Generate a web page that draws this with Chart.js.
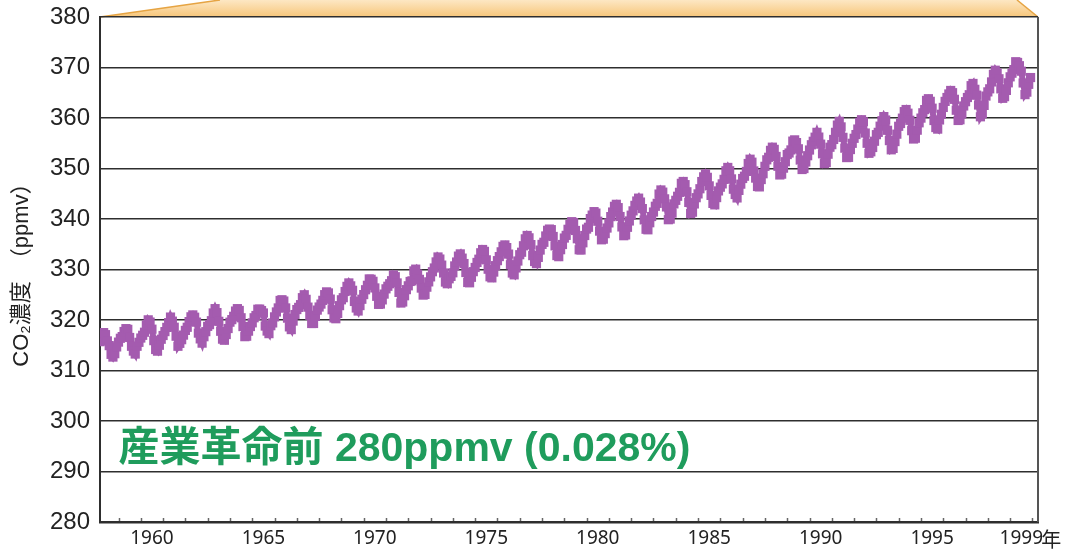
<!DOCTYPE html>
<html>
<head>
<meta charset="utf-8">
<script src="https://cdn.jsdelivr.net/npm/chart.js@4"></script>
<style>
  html,body{margin:0;padding:0;background:#fff}
  canvas{display:block}
</style>
</head>
<body>
<canvas id="co2" width="1066" height="549"></canvas>
<script>
// Mauna Loa monthly CO2 (ppmv), Jan..Dec per row
const years = [1958,1959,1960,1961,1962,1963,1964,1965,1966,1967,1968,1969,1970,1971,
  1972,1973,1974,1975,1976,1977,1978,1979,1980,1981,1982,1983,1984,1985,1986,1987,
  1988,1989,1990,1991,1992,1993,1994,1995,1996,1997,1998,1999];
const co2ByYear = [
  [null,null,315.71,317.45,317.50,317.10,315.86,314.93,313.20,312.66,313.33,314.67],
  [315.62,316.38,316.71,317.72,318.29,318.15,316.54,314.80,313.84,313.26,314.80,315.58],
  [316.43,316.97,317.58,319.02,320.03,319.59,318.18,315.91,314.16,313.83,315.00,316.19],
  [316.93,317.70,318.54,319.48,320.58,319.77,318.57,316.79,314.80,315.38,316.10,317.01],
  [317.94,318.56,319.68,320.63,321.01,320.55,319.58,317.40,316.26,315.42,316.69,317.69],
  [318.74,319.08,319.86,321.39,322.25,321.47,319.74,317.77,316.21,315.99,317.12,318.31],
  [319.57,320.07,320.73,321.77,322.25,321.89,320.44,318.70,316.70,316.79,317.79,318.71],
  [319.44,320.44,320.89,322.13,322.16,321.87,321.39,318.80,317.81,317.30,318.87,319.42],
  [320.62,321.59,322.39,323.87,324.01,323.75,322.39,320.37,318.64,318.10,319.79,321.08],
  [322.07,322.50,323.04,324.42,325.00,324.09,322.55,320.92,319.31,319.31,320.72,321.96],
  [322.57,323.15,323.89,325.02,325.57,325.36,324.14,322.03,320.41,320.25,321.31,322.84],
  [324.00,324.42,325.64,326.66,327.34,326.76,325.88,323.67,322.38,321.78,322.85,324.11],
  [325.03,325.99,326.87,328.13,328.07,327.66,326.35,324.69,323.10,323.16,323.98,325.13],
  [326.17,326.68,327.18,327.78,328.92,328.57,327.34,325.46,323.36,323.57,324.80,326.01],
  [326.77,327.63,327.75,329.72,330.07,329.09,328.05,326.32,324.93,325.06,326.50,327.55],
  [328.54,329.56,330.30,331.50,332.48,332.07,330.87,329.31,327.51,327.18,328.16,328.64],
  [329.35,330.71,331.48,332.65,333.09,332.25,331.18,329.40,327.43,327.37,328.46,329.57],
  [330.40,331.40,332.04,333.31,333.96,333.59,331.91,330.06,328.56,328.34,329.49,330.76],
  [331.75,332.56,333.50,334.58,334.87,334.34,333.05,330.94,329.30,328.94,330.31,331.68],
  [332.93,333.42,334.70,336.07,336.74,336.27,334.93,332.75,331.58,331.16,332.40,333.85],
  [334.97,335.39,336.64,337.76,338.01,337.89,336.54,334.68,332.76,332.54,333.92,334.95],
  [336.23,336.76,337.96,338.89,339.47,339.29,337.73,336.09,333.91,333.86,335.29,336.73],
  [338.01,338.36,340.08,340.77,341.46,341.17,339.56,337.60,335.88,336.01,337.10,338.21],
  [339.23,340.47,341.38,342.51,342.91,342.25,340.49,338.43,336.69,336.85,338.36,339.61],
  [340.75,341.61,342.70,343.56,344.13,343.35,342.06,339.82,337.97,337.86,339.26,340.49],
  [341.38,342.52,343.10,344.94,345.75,345.32,343.99,342.39,339.86,339.99,341.16,342.99],
  [343.70,344.50,345.28,347.06,347.43,346.80,345.39,343.28,341.07,341.35,342.98,344.22],
  [344.97,345.99,347.42,348.35,348.93,348.25,346.56,344.67,343.09,342.80,344.24,345.56],
  [346.30,346.95,347.85,349.55,350.21,349.55,347.94,345.90,344.85,344.17,345.66,346.90],
  [348.02,348.47,349.42,350.99,351.84,351.25,349.52,348.10,346.44,346.36,347.81,348.96],
  [350.43,351.72,352.22,353.59,354.22,353.79,352.39,350.44,348.72,348.88,350.07,351.34],
  [352.76,353.07,353.68,355.42,355.67,355.13,353.90,351.67,349.80,349.99,351.30,352.53],
  [353.66,354.70,355.39,356.20,357.16,356.22,354.82,352.91,350.96,351.18,352.83,354.21],
  [354.72,355.75,357.16,358.60,359.34,358.24,356.17,354.03,352.16,352.21,353.75,354.99],
  [355.98,356.72,357.81,359.15,359.66,359.25,357.02,355.00,353.01,353.31,354.16,355.40],
  [356.70,357.16,358.38,359.46,360.28,359.60,357.57,355.52,353.70,353.98,355.33,356.80],
  [358.36,358.91,359.97,361.26,361.68,360.95,359.55,357.49,355.84,356.00,357.59,359.05],
  [359.98,361.03,361.66,363.48,363.82,363.30,361.94,359.50,358.11,357.80,359.61,360.74],
  [362.09,363.29,364.06,364.76,365.45,365.01,363.70,361.54,359.51,359.65,360.80,362.38],
  [363.23,364.06,364.61,366.40,366.84,365.68,364.52,362.57,360.24,360.83,362.49,364.34],
  [365.17,365.78,367.14,368.64,369.46,368.90,367.77,365.77,363.90,364.23,365.46,366.97],
  [368.15,368.87,369.59,371.14,371.00,370.35,369.27,366.94,364.63,365.12,366.67,368.01]
];
const tickYears = [1960,1965,1970,1975,1980,1985,1990,1995,1999];
const yTicks = [280,290,300,310,320,330,340,350,360,370,380];
const noteText = '産業革命前 280ppmv (0.028%)';
const yTitle = 'CO₂濃度　（ppmv）';

const purple = '#a45baf';
const green = '#1f9c5c';
const dark = '#2e2e2e';

// points: x = year + month/12
const points = [];
years.forEach((yr,i)=>{
  co2ByYear[i].forEach((v,m)=>{ if (v!==null) points.push({x: yr + m/12, y: v}); });
});

const decor = {
  id: 'decor',
  beforeDraw(chart){
    const {ctx, chartArea:a} = chart;
    // orange tab on top of the frame
    ctx.save();
    const g = ctx.createLinearGradient(0,0,0,a.top);
    g.addColorStop(0,'#fde7c3'); g.addColorStop(1,'#f7c67a');
    ctx.beginPath();
    ctx.moveTo(a.left, a.top);
    ctx.lineTo(a.left+120, 0);
    ctx.lineTo(a.right-21, 0);
    ctx.lineTo(a.right, a.top);
    ctx.closePath();
    ctx.fillStyle = g; ctx.fill();
    ctx.strokeStyle = '#e6a443'; ctx.lineWidth = 1.5;
    ctx.beginPath(); ctx.moveTo(a.left,a.top); ctx.lineTo(a.left+120,0); ctx.stroke();
    ctx.beginPath(); ctx.moveTo(a.right,a.top); ctx.lineTo(a.right-21,0); ctx.stroke();
    ctx.restore();
  },
  beforeDatasetsDraw(chart){
    const {ctx, chartArea:a, scales:{x}} = chart;
    ctx.save();
    // right frame
    ctx.strokeStyle = '#555'; ctx.lineWidth = 2;
    ctx.beginPath(); ctx.moveTo(a.right, a.top); ctx.lineTo(a.right, a.bottom); ctx.stroke();
    // small inner year ticks on the bottom axis
    ctx.strokeStyle = '#666'; ctx.lineWidth = 1.5;
    for (let yr = 1959; yr <= 2000; yr++){
      const px = Math.round(x.getPixelForValue(yr)) + 0.5;
      if (px <= a.left+2 || px >= a.right-2) continue;
      ctx.beginPath(); ctx.moveTo(px, a.bottom-4); ctx.lineTo(px, a.bottom-1); ctx.stroke();
    }
    ctx.restore();
  },
  afterDraw(chart){
    const {ctx, scales:{x,y}, chartArea:a} = chart;
    ctx.save();
    // annotation
    ctx.fillStyle = green;
    ctx.font = 'bold 41px "Liberation Sans", "Noto Sans CJK JP", sans-serif';
    ctx.textBaseline = 'middle'; ctx.textAlign = 'left';
    ctx.fillText(noteText, x.getPixelForValue(1959.0), y.getPixelForValue(294.3));
    // 年 after last tick label
    ctx.fillStyle = '#222';
    ctx.font = '20px "Noto Sans CJK JP", sans-serif';
    ctx.fillText('年', x.getPixelForValue(1999.5) + 20, a.bottom + 17);
    ctx.restore();
  }
};

new Chart(document.getElementById('co2'), {
  type: 'line',
  data: {datasets: [{
    data: points,
    borderColor: purple, backgroundColor: purple,
    borderWidth: 6, tension: 0,
    pointStyle: 'rect', pointRadius: 6.5, pointBorderWidth: 0,
    pointBackgroundColor: purple
  }]},
  options: {
    responsive: false, animation: false,
    layout: {padding: {top: 17, right: 28, left: 0, bottom: 0}},
    plugins: {legend: {display: false}, tooltip: {enabled: false}},
    scales: {
      x: {
        type: 'linear', min: 1958.17, max: 2000.25,
        afterBuildTicks: s => { s.ticks = tickYears.map(v => ({value: v + 0.5})); },
        afterFit: s => { s.height = 27; s.paddingLeft = 0; s.paddingRight = 0; },
        grid: {display: false, drawTicks: false},
        border: {display: true, color: dark, width: 2.5},
        ticks: {
          callback: v => String(Math.floor(v)),
          color: '#222', padding: 5, maxRotation: 0, autoSkip: false,
          font: {family: '"Noto Sans", "Open Sans", sans-serif', size: 19}
        }
      },
      y: {
        min: 280, max: 380,
        afterBuildTicks: s => { s.ticks = yTicks.map(v => ({value: v})); },
        afterFit: s => { s.width = 100; s.paddingTop = 0; s.paddingBottom = 0; },
        grid: {color: dark, lineWidth: 1.5, drawTicks: false},
        border: {display: true, color: dark, width: 2},
        ticks: {
          color: '#222', padding: 10,
          font: {family: '"Liberation Sans", Arial, sans-serif', size: 24}
        },
        title: {
          display: true, text: yTitle, color: '#222',
          padding: {top: 9, bottom: 0},
          font: {family: '"Liberation Sans", "Noto Sans CJK JP", sans-serif', size: 22}
        }
      }
    }
  },
  plugins: [decor]
});
</script>
</body>
</html>
